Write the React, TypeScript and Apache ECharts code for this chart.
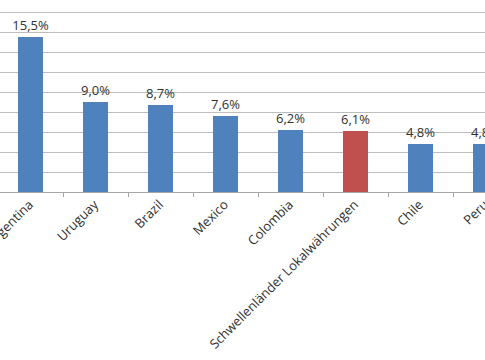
import React, { useEffect, useRef } from "react";
import * as echarts from "echarts";

const categories = [
  "Argentina",
  "Uruguay",
  "Brazil",
  "Mexico",
  "Colombia",
  "Schwellenländer Lokalwährungen",
  "Chile",
  "Peru",
];
const values = [15.5, 9.0, 8.7, 7.6, 6.2, 6.1, 4.8, 4.8];
const highlightIndex = 5;
const yTicks = { min: 0, max: 18, interval: 2 };

const BLUE = "#4f81bd";
const RED = "#c0504d";

export default function App() {
  const ref = useRef<HTMLDivElement>(null);
  useEffect(() => {
    if (!ref.current) return;
    const chart = echarts.init(ref.current, null, { renderer: "svg" });
    chart.setOption({
      animation: false,
      grid: {
        left: -2,
        right: -33,
        top: 12,
        bottom: 168,
        containLabel: false,
        outerBoundsMode: "none",
      },
      xAxis: {
        type: "category",
        data: categories,
        axisLine: { lineStyle: { color: "#a6a6a6", width: 1 } },
        axisTick: { show: true, length: 5, lineStyle: { color: "#a6a6a6" } },
        axisLabel: {
          rotate: 45,
          interval: 0,
          margin: 10,
          color: "#303030",
          fontFamily: "Open Sans",
          fontSize: 13,
          hideOverlap: false,
        },
      },
      yAxis: {
        type: "value",
        min: yTicks.min,
        max: yTicks.max,
        interval: yTicks.interval,
        axisLine: { show: false },
        axisTick: { show: false },
        axisLabel: { show: false },
        splitLine: { lineStyle: { color: "#bdbdbd", width: 1 } },
      },
      series: [
        {
          type: "bar",
          barWidth: 25,
          data: values.map((v, i) => ({
            value: v,
            itemStyle: { color: i === highlightIndex ? RED : BLUE },
          })),
          label: {
            show: true,
            position: "top",
            distance: 6,
            color: "#303030",
            fontFamily: "Open Sans",
            fontSize: 13,
            formatter: (p: any) => p.value.toFixed(1).replace(".", ",") + "%",
          },
        },
      ],
    });
    return () => chart.dispose();
  }, []);
  return <div ref={ref} style={{ width: 485, height: 360, position: "absolute", left: 0, top: 0 }} />;
}
